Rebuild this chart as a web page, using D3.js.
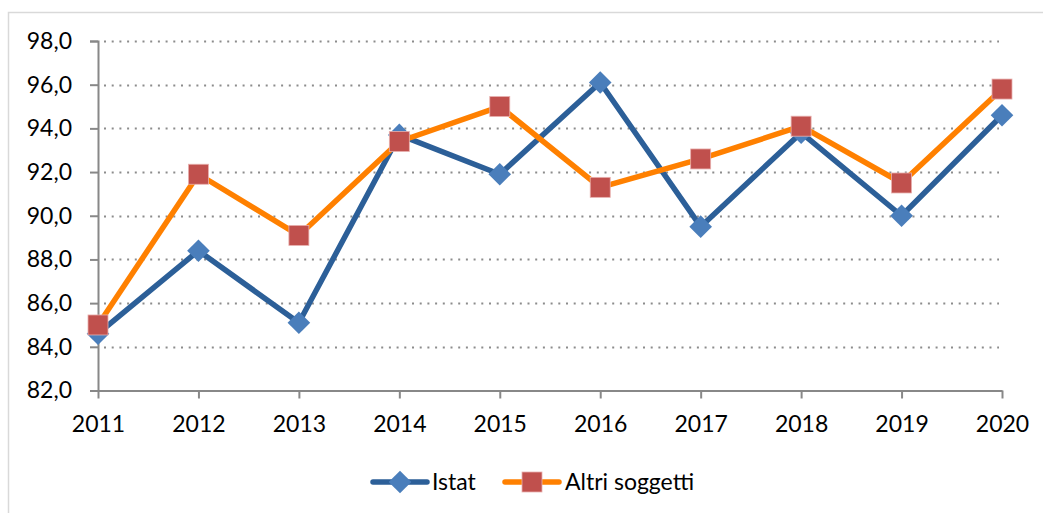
<!DOCTYPE html>
<html>
<head>
<meta charset="utf-8">
<script src="https://cdn.jsdelivr.net/npm/d3@7"></script>
<style>
  body { margin: 0; background: #fff; }
  text { font-family: Lato, "Open Sans", sans-serif; fill: #000; }
</style>
</head>
<body>
<script>
// data
var years = ["2011", "2012", "2013", "2014", "2015", "2016", "2017", "2018", "2019", "2020"];
var istat = [84.6, 88.4, 85.1, 93.7, 91.9, 96.1, 89.5, 93.8, 90.0, 94.6];
var altri = [85.0, 91.9, 89.1, 93.4, 95.0, 91.3, 92.6, 94.1, 91.5, 95.8];
var yTicks = [82, 84, 86, 88, 90, 92, 94, 96, 98];

var w = 1043, h = 513;

var svg = d3.select("body")
    .append("svg")
    .attr("width", w)
    .attr("height", h);

// chart frame
svg.append("rect")
    .attr("x", 8.5)
    .attr("y", 12.5)
    .attr("width", w + 20)
    .attr("height", h + 20)
    .style("fill", "none")
    .style("stroke", "#d9d9d9")
    .style("stroke-width", 1.5);

var x = d3.scalePoint()
    .domain(years)
    .range([98, 1002]);

var y = d3.scaleLinear()
    .domain([82, 98])
    .range([390.5, 41]);

// dotted gridlines
svg.append("g")
    .selectAll("line")
    .data(yTicks.slice(1))
    .enter()
    .append("line")
    .attr("x1", 104)
    .attr("x2", 999)
    .attr("y1", function(d){ return Math.round(y(d)) + 0.5; })
    .attr("y2", function(d){ return Math.round(y(d)) + 0.5; })
    .style("stroke", "#8c8c8c")
    .style("stroke-width", 2)
    .style("stroke-dasharray", "2,5.7");

// y axis
var yAxis = d3.axisLeft(y)
    .tickValues(yTicks)
    .tickSize(8)
    .tickPadding(18)
    .tickFormat(function(d){ return d3.format(".1f")(d).replace(".", ","); });

var gy = svg.append("g")
    .attr("transform", "translate(98,0)")
    .call(yAxis);

// x axis
var xAxis = d3.axisBottom(x)
    .tickSize(8)
    .tickSizeOuter(0)
    .tickPadding(17);

var gx = svg.append("g")
    .attr("transform", "translate(0,390.5)")
    .call(xAxis);

[gy, gx].forEach(function(g){
    g.selectAll("path, line")
        .style("stroke", "#888")
        .style("stroke-width", 2);
    g.selectAll("text")
        .style("font-size", "23px")
        .style("font-family", "Lato, 'Open Sans', sans-serif")
        .style("fill", "#000");
});

var series = [
    { name: "Istat", values: istat, line: "#2c5f98", marker: "#4a7ebb", shape: "diamond" },
    { name: "Altri soggetti", values: altri, line: "#ff8000", marker: "#c0504d", shape: "square" }
];

var line = d3.line()
    .x(function(d, i){ return x(years[i]); })
    .y(function(d){ return y(d); });

function drawMarker(g, s, cx, cy) {
    if (s.shape == "diamond") {
        g.append("rect")
            .attr("x", -8)
            .attr("y", -8)
            .attr("width", 16)
            .attr("height", 16)
            .attr("transform", "translate(" + cx + "," + cy + ") rotate(45)")
            .style("fill", s.marker);
    } else {
        g.append("rect")
            .attr("x", cx - 10)
            .attr("y", cy - 10)
            .attr("width", 20)
            .attr("height", 20)
            .style("fill", s.marker)
            .style("stroke", "#e8b0ae")
            .style("stroke-width", 0.8);
    }
}

series.forEach(function(s){
    svg.append("path")
        .datum(s.values)
        .attr("d", line)
        .style("fill", "none")
        .style("stroke", s.line)
        .style("stroke-width", 5.5)
        .style("stroke-linejoin", "round");

    var mg = svg.append("g");
    s.values.forEach(function(v, i){
        drawMarker(mg, s, x(years[i]), y(v));
    });
});

// legend
var legendPos = [
    { lx: 373, tx: 432 },
    { lx: 505, tx: 565 }
];
series.forEach(function(s, i){
    var lg = svg.append("g");
    var p = legendPos[i];
    lg.append("line")
        .attr("x1", p.lx)
        .attr("x2", p.lx + 54)
        .attr("y1", 482)
        .attr("y2", 482)
        .style("stroke", s.line)
        .style("stroke-width", 5.5)
        .style("stroke-linecap", "round");
    drawMarker(lg, s, p.lx + 27, 482);
    lg.append("text")
        .attr("x", p.tx)
        .attr("y", 490)
        .style("font-size", "23px")
        .text(s.name);
});
</script>
</body>
</html>
